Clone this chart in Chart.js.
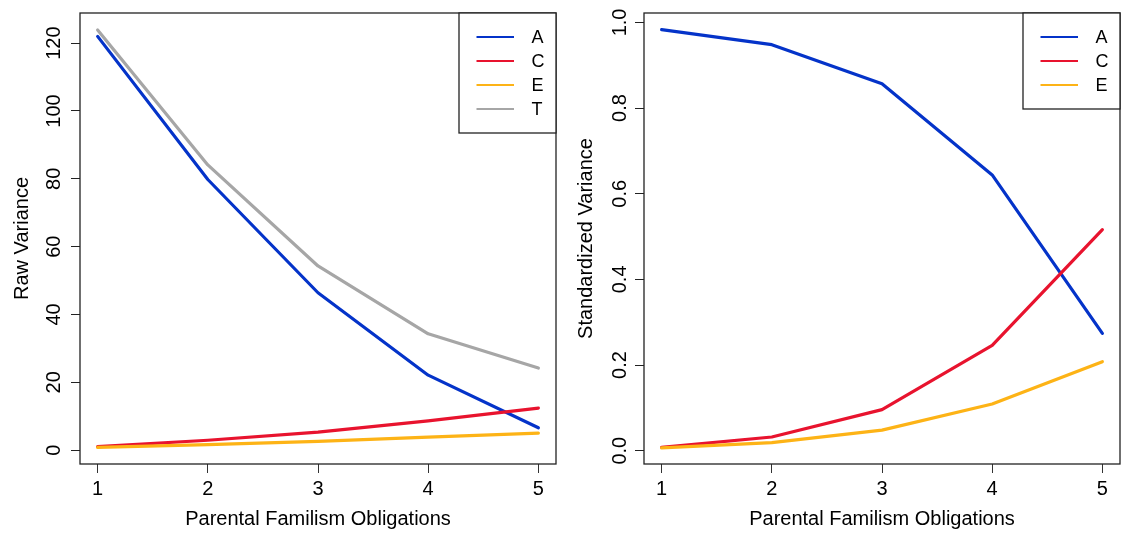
<!DOCTYPE html>
<html><head><meta charset="utf-8">
<script src="https://cdn.jsdelivr.net/npm/chart.js@4"></script>
<style>
html,body{margin:0;padding:0;background:#fff;}
#wrap{position:relative;width:1122px;height:544px;background:#fff;}
.pane{position:absolute;top:0;height:544px;width:561px;}
</style></head><body>
<div id="wrap">
<div class="pane" style="left:0"><canvas id="c1"></canvas></div>
<div class="pane" style="left:561px"><canvas id="c2"></canvas></div>
</div>
<script>
// ---- data ----
const categories = [1, 2, 3, 4, 5];
const rawA = [122.0, 79.8, 46.4, 22.1, 6.6];
const rawC = [1.0, 2.9, 5.3, 8.6, 12.4];
const rawE = [0.8, 1.6, 2.6, 3.8, 5.0];
const rawT = [123.9, 84.1, 54.3, 34.3, 24.2];
const stdA = [0.983, 0.948, 0.857, 0.644, 0.274];
const stdC = [0.008, 0.032, 0.096, 0.246, 0.516];
const stdE = [0.0065, 0.019, 0.048, 0.109, 0.208];
const xTicks = [1, 2, 3, 4, 5];
const rawYTicks = [0, 20, 40, 60, 80, 100, 120];
const rawYTickLabels = ['0', '20', '40', '60', '80', '100', '120'];
const stdYTicks = [0, 0.2, 0.4, 0.6, 0.8, 1.0];
const stdYTickLabels = ['0.0', '0.2', '0.4', '0.6', '0.8', '1.0'];
const seriesNames = ['A', 'C', 'E', 'T'];
const seriesColors = ['#0433C9', '#E8132E', '#FDB316', '#A6A6A6'];
const xTitle = 'Parental Familism Obligations';
const rawYTitle = 'Raw Variance';
const stdYTitle = 'Standardized Variance';

const FONT = "'Liberation Sans', Arial, Helvetica, sans-serif";

function makeDatasets(series) {
  return series.map((vals, i) => ({
    label: seriesNames[i],
    data: categories.map((c, j) => ({x: c, y: vals[j]})),
    borderColor: seriesColors[i],
    backgroundColor: seriesColors[i],
    borderWidth: 3.2,
    pointRadius: 0,
    tension: 0,
    fill: false,
    borderCapStyle: 'round',
    borderJoinStyle: 'round',
    order: series.length - 1 - i
  }));
}

const rPlugin = {
  id: 'rstyle',
  afterDraw(chart, args, opts) {
    const ctx = chart.ctx;
    const a = chart.chartArea;
    ctx.save();
    // box
    ctx.strokeStyle = '#222';
    ctx.lineWidth = 1.3;
    ctx.strokeRect(a.left, a.top, a.right - a.left, a.bottom - a.top);
    // y tick labels (rotated, as in R)
    const ys = chart.scales.y;
    ctx.fillStyle = '#000';
    ctx.font = '20px ' + FONT;
    ctx.textAlign = 'center';
    ctx.textBaseline = 'alphabetic';
    opts.yTicks.forEach((v, i) => {
      const py = ys.getPixelForValue(v);
      ctx.save();
      ctx.translate(a.left - opts.yLabOff, py);
      ctx.rotate(-Math.PI / 2);
      ctx.fillText(opts.yLabels[i], 0, 0);
      ctx.restore();
    });
    // legend
    const ds = chart.data.datasets;
    const lw = 97, row = 24;
    const lh = row * ds.length + 24;
    const lx = a.right - lw, ly = a.top;
    ctx.fillStyle = '#fff';
    ctx.fillRect(lx, ly, lw, lh);
    ctx.strokeStyle = '#222';
    ctx.lineWidth = 1.3;
    ctx.strokeRect(lx, ly, lw, lh);
    ctx.font = '18px ' + FONT;
    ctx.textAlign = 'left';
    ctx.textBaseline = 'middle';
    ds.forEach((d, i) => {
      const yy = ly + 24 + row * i;
      ctx.strokeStyle = d.borderColor;
      ctx.lineWidth = 2;
      ctx.beginPath();
      ctx.moveTo(lx + 17.5, yy);
      ctx.lineTo(lx + 55, yy);
      ctx.stroke();
      ctx.fillStyle = '#000';
      ctx.fillText(d.label, lx + 72.5, yy + 1);
    });
    ctx.restore();
  }
};

function makeChart(id, series, yMin, yMax, yTicks, yLabels, yTitle, axisW, padRight, yTitlePad, yLabOff) {
  return new Chart(document.getElementById(id), {
    type: 'line',
    data: {datasets: makeDatasets(series)},
    plugins: [rPlugin],
    options: {
      responsive: true,
      maintainAspectRatio: false,
      animation: false,
      layout: {padding: {top: 13, right: padRight, bottom: 0, left: 0}},
      plugins: {
        legend: {display: false},
        tooltip: {enabled: false},
        rstyle: {yTicks: yTicks, yLabels: yLabels, yLabOff: yLabOff}
      },
      scales: {
        x: {
          type: 'linear',
          min: 0.84, max: 5.16,
          afterBuildTicks: s => { s.ticks = xTicks.map(v => ({value: v})); },
          afterFit: s => { s.height = 80; },
          grid: {display: true, drawOnChartArea: false, drawTicks: true, tickLength: 9, color: '#333', lineWidth: 1},
          border: {display: false},
          ticks: {color: '#000', font: {size: 20, family: FONT}, padding: 4, maxRotation: 0, autoSkip: false},
          title: {display: true, text: xTitle, color: '#000', font: {size: 20, family: FONT}, padding: {top: 0, bottom: 13}}
        },
        y: {
          type: 'linear',
          min: yMin, max: yMax,
          afterBuildTicks: s => { s.ticks = yTicks.map(v => ({value: v})); },
          afterFit: s => { s.width = axisW; },
          grid: {display: true, drawOnChartArea: false, drawTicks: true, tickLength: 9, color: '#222', lineWidth: 1},
          border: {display: false},
          ticks: {display: false},
          title: {display: true, text: yTitle, color: '#000', font: {size: 20, family: FONT}, padding: {top: yTitlePad, bottom: 0}}
        }
      }
    }
  });
}

makeChart('c1', [rawA, rawC, rawE, rawT], -4.1, 128.9, rawYTicks, rawYTickLabels, rawYTitle, 80, 5, 10, 20);
makeChart('c2', [stdA, stdC, stdE], -0.031, 1.022, stdYTicks, stdYTickLabels, stdYTitle, 83, 2, 13.5, 18);
</script>
</body></html>
